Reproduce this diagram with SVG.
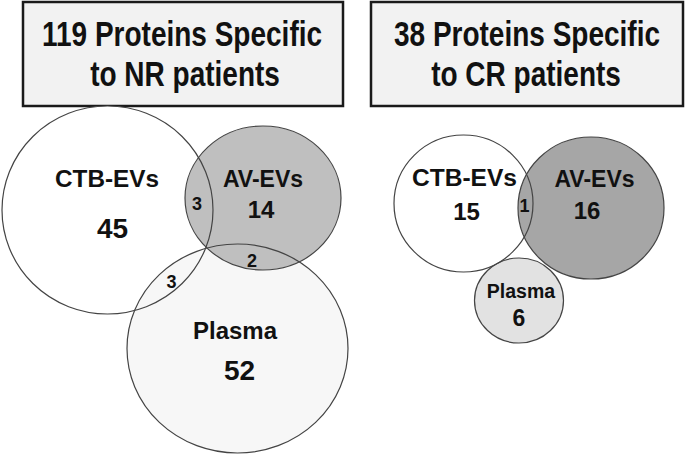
<svg xmlns="http://www.w3.org/2000/svg" width="685" height="457" viewBox="0 0 685 457">
<style>
  .title-box { fill: #f2f2f2; stroke: #1a1a1a; stroke-width: 2.5; }
  .title { font-family: "Liberation Sans", Arial, sans-serif; font-weight: bold; font-size: 28px; fill: #111; text-anchor: middle; }
  .set { stroke: none; }
  .outline { fill: none; stroke: #444; stroke-width: 1.2; }
  .lbl { font-family: "Liberation Sans", Arial, sans-serif; font-weight: bold; fill: #111; text-anchor: middle; }
  .name { font-size: 23px; }
  .big { font-size: 28px; }
  .mid { font-size: 24px; }
  .small { font-size: 18px; }
</style>
<rect width="685" height="457" fill="#ffffff"/>

<g id="title-nr">
  <rect class="title-box" x="23" y="2" width="320" height="104"/>
  <g transform="translate(182,46) scale(1,1.27)"><text class="title" x="0" y="0">119 Proteins Specific</text></g>
  <g transform="translate(185,86) scale(1,1.27)"><text class="title" x="0" y="0">to NR patients</text></g>
</g>
<g id="title-cr">
  <rect class="title-box" x="371" y="2" width="312" height="104"/>
  <g transform="translate(527,46) scale(1,1.27)"><text class="title" x="0" y="0">38 Proteins Specific</text></g>
  <g transform="translate(526,86) scale(1,1.27)"><text class="title" x="0" y="0">to CR patients</text></g>
</g>

<!-- NR Venn -->
<g id="nr-ctb-evs">
  <ellipse class="set" cx="107.5" cy="210" rx="105.5" ry="104" fill="#ffffff"/>
  <text class="lbl name" x="107" y="187" textLength="104" lengthAdjust="spacingAndGlyphs">CTB-EVs</text>
  <text class="lbl big" x="112.5" y="238">45</text>
</g>
<g id="nr-plasma">
  <ellipse class="set" cx="237.5" cy="348.5" rx="110.5" ry="104.5" fill="#f7f7f7"/>
  <text class="lbl mid" x="235" y="339">Plasma</text>
  <text class="lbl big" x="239.5" y="380">52</text>
</g>
<g id="nr-av-evs">
  <ellipse class="set" cx="263" cy="198" rx="78" ry="72" fill="#bfbfbf"/>
  <text class="lbl name" x="263" y="187">AV-EVs</text>
  <text class="lbl mid" x="261" y="218">14</text>
</g>

<!-- CR Venn -->
<g id="cr-ctb-evs">
  <ellipse class="set" cx="463.5" cy="203.5" rx="69.5" ry="68.5" fill="#ffffff"/>
  <text class="lbl name" x="464.5" y="186" textLength="105" lengthAdjust="spacingAndGlyphs">CTB-EVs</text>
  <text class="lbl mid" x="466.5" y="220">15</text>
</g>
<g id="cr-plasma">
  <ellipse class="set" cx="519" cy="300.5" rx="44.5" ry="42.5" fill="#e2e2e2"/>
  <text class="lbl" x="521" y="298" font-size="19.5">Plasma</text>
  <text class="lbl" x="519" y="326" font-size="23">6</text>
</g>
<g id="cr-av-evs">
  <ellipse class="set" cx="591" cy="208" rx="73" ry="71" fill="#a6a6a6"/>
  <text class="lbl name" x="594.5" y="187">AV-EVs</text>
  <text class="lbl mid" x="587" y="219">16</text>
</g>

<g id="outlines">
  <ellipse class="outline" cx="107.5" cy="210" rx="105.5" ry="104"/>
  <ellipse class="outline" cx="237.5" cy="348.5" rx="110.5" ry="104.5"/>
  <ellipse class="outline" cx="263" cy="198" rx="78" ry="72"/>
  <ellipse class="outline" cx="463.5" cy="203.5" rx="69.5" ry="68.5"/>
  <ellipse class="outline" cx="519" cy="300.5" rx="44.5" ry="42.5"/>
  <ellipse class="outline" cx="591" cy="208" rx="73" ry="71"/>
</g>

<g id="overlap-labels">
  <text class="lbl small" x="197" y="210">3</text>
  <text class="lbl small" x="171.5" y="288">3</text>
  <text class="lbl small" x="252" y="267">2</text>
  <text class="lbl small" x="524.5" y="212">1</text>
</g>
</svg>
